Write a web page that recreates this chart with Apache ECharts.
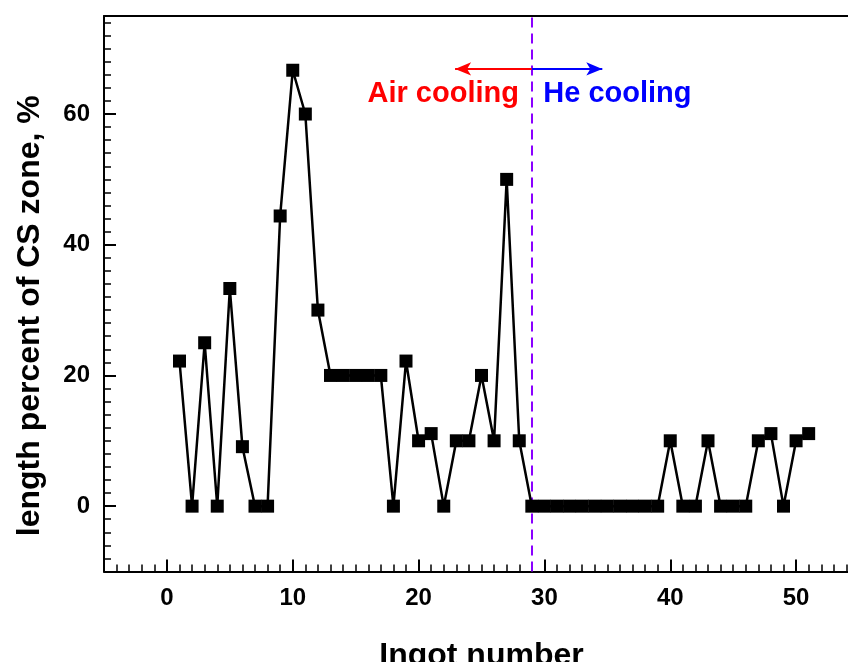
<!DOCTYPE html>
<html>
<head>
<meta charset="utf-8">
<script src="https://cdn.jsdelivr.net/npm/echarts@6/dist/echarts.min.js"></script>
<style>
html,body{margin:0;padding:0;background:#fff;}
#c{width:848px;height:662px;}
</style>
</head>
<body>
<div id="c"></div>
<script>
const ingot = [1,2,3,4,5,6,7,8,9,10,11,12,13,14,15,16,17,18,19,20,21,22,23,24,25,26,27,28,29,30,31,32,33,34,35,36,37,38,39,40,41,42,43,44,45,46,47,48,49,50,51];
const csPercent = [22.2,0,25,0,33.3,9.1,0,0,44.4,66.7,60,30,20,20,20,20,20,0,22.2,10,11.1,0,10,10,20,10,50,10,0,0,0,0,0,0,0,0,0,0,0,10,0,0,10,0,0,0,10,11.1,0,10,11.1];
const xMajorTicks = [0,10,20,30,40,50];
const yMajorTicks = [0,20,40,60];
const boundaryIngot = 29;

const FONT = '"Liberation Sans", Arial, sans-serif';
const chart = echarts.init(document.getElementById('c'), null, {renderer:'canvas'});
const seriesData = ingot.map((x,i)=>[x, csPercent[i]]);

const baseX = {type:'value', min:-5, max:55, splitLine:{show:false}};
const baseY = {type:'value', min:-10, max:75, splitLine:{show:false}};

chart.setOption({
  animation:false,
  backgroundColor:'#ffffff',
  grid:{left:104, top:16, width:755, height:555.5, containLabel:false, outerBoundsMode:'none'},
  xAxis:[
    Object.assign({}, baseX, {position:'bottom', interval:1,
      axisLine:{show:true, onZero:false, lineStyle:{color:'#000', width:2}},
      axisTick:{show:true, inside:true, length:7, lineStyle:{color:'#000', width:1.5}},
      axisLabel:{show:false}}),
    Object.assign({}, baseX, {position:'bottom',
      axisLine:{show:false, onZero:false},
      axisTick:{show:true, inside:true, length:12, customValues:xMajorTicks, lineStyle:{color:'#000', width:2}},
      axisLabel:{show:true, customValues:xMajorTicks, margin:15, color:'#000', fontFamily:FONT, fontWeight:'bold', fontSize:24},
      name:'Ingot number', nameLocation:'middle', nameGap:69,
      nameTextStyle:{color:'#000', fontFamily:FONT, fontWeight:'bold', fontSize:32}}),
    Object.assign({}, baseX, {position:'top',
      axisLine:{show:true, onZero:false, lineStyle:{color:'#000', width:2}},
      axisTick:{show:false}, axisLabel:{show:false}})
  ],
  yAxis:[
    Object.assign({}, baseY, {position:'left', interval:2,
      axisLine:{show:true, onZero:false, lineStyle:{color:'#000', width:2}},
      axisTick:{show:true, inside:true, length:7, lineStyle:{color:'#000', width:1.5}},
      axisLabel:{show:false}}),
    Object.assign({}, baseY, {position:'left',
      axisLine:{show:false, onZero:false},
      axisTick:{show:true, inside:true, length:12, customValues:yMajorTicks, lineStyle:{color:'#000', width:2}},
      axisLabel:{show:true, customValues:yMajorTicks, margin:14, color:'#000', fontFamily:FONT, fontWeight:'bold', fontSize:24},
      name:'length percent of CS zone, %', nameLocation:'middle', nameGap:58,
      nameTextStyle:{color:'#000', fontFamily:FONT, fontWeight:'bold', fontSize:32, padding:[0,44,0,0]}})
  ],
  series:[{
    type:'line',
    xAxisIndex:0, yAxisIndex:0,
    data:seriesData,
    symbol:'rect', symbolSize:13,
    itemStyle:{color:'#000'},
    lineStyle:{color:'#000', width:2.5},
    z:5,
    markLine:{
      silent:true, animation:false,
      label:{show:false},
      symbol:['none','none'],
      data:[
        [{coord:[boundaryIngot,-10], lineStyle:{color:'#8a00ff', width:2, type:[10,6]}, symbol:'none'},
         {coord:[boundaryIngot,75], symbol:'none'}],
        [{coord:[boundaryIngot,66.9], lineStyle:{color:'#ff0000', width:2, type:'solid'}, symbol:'none'},
         {coord:[22.9,66.9], symbol:'arrow', symbolSize:[10,16]}],
        [{coord:[boundaryIngot,66.9], lineStyle:{color:'#0000ff', width:2, type:'solid'}, symbol:'none'},
         {coord:[34.6,66.9], symbol:'arrow', symbolSize:[10,16]}]
      ]
    },
    markPoint:{
      silent:true, animation:false,
      symbol:'circle', symbolSize:0,
      data:[
        {coord:[21.96,63.1], label:{show:true, formatter:'Air cooling', position:'inside', color:'#ff0000', fontFamily:FONT, fontWeight:'bold', fontSize:29}},
        {coord:[35.8,63.1], label:{show:true, formatter:'He cooling', position:'inside', color:'#0000ff', fontFamily:FONT, fontWeight:'bold', fontSize:29}}
      ]
    }
  }]
});
</script>
</body>
</html>
